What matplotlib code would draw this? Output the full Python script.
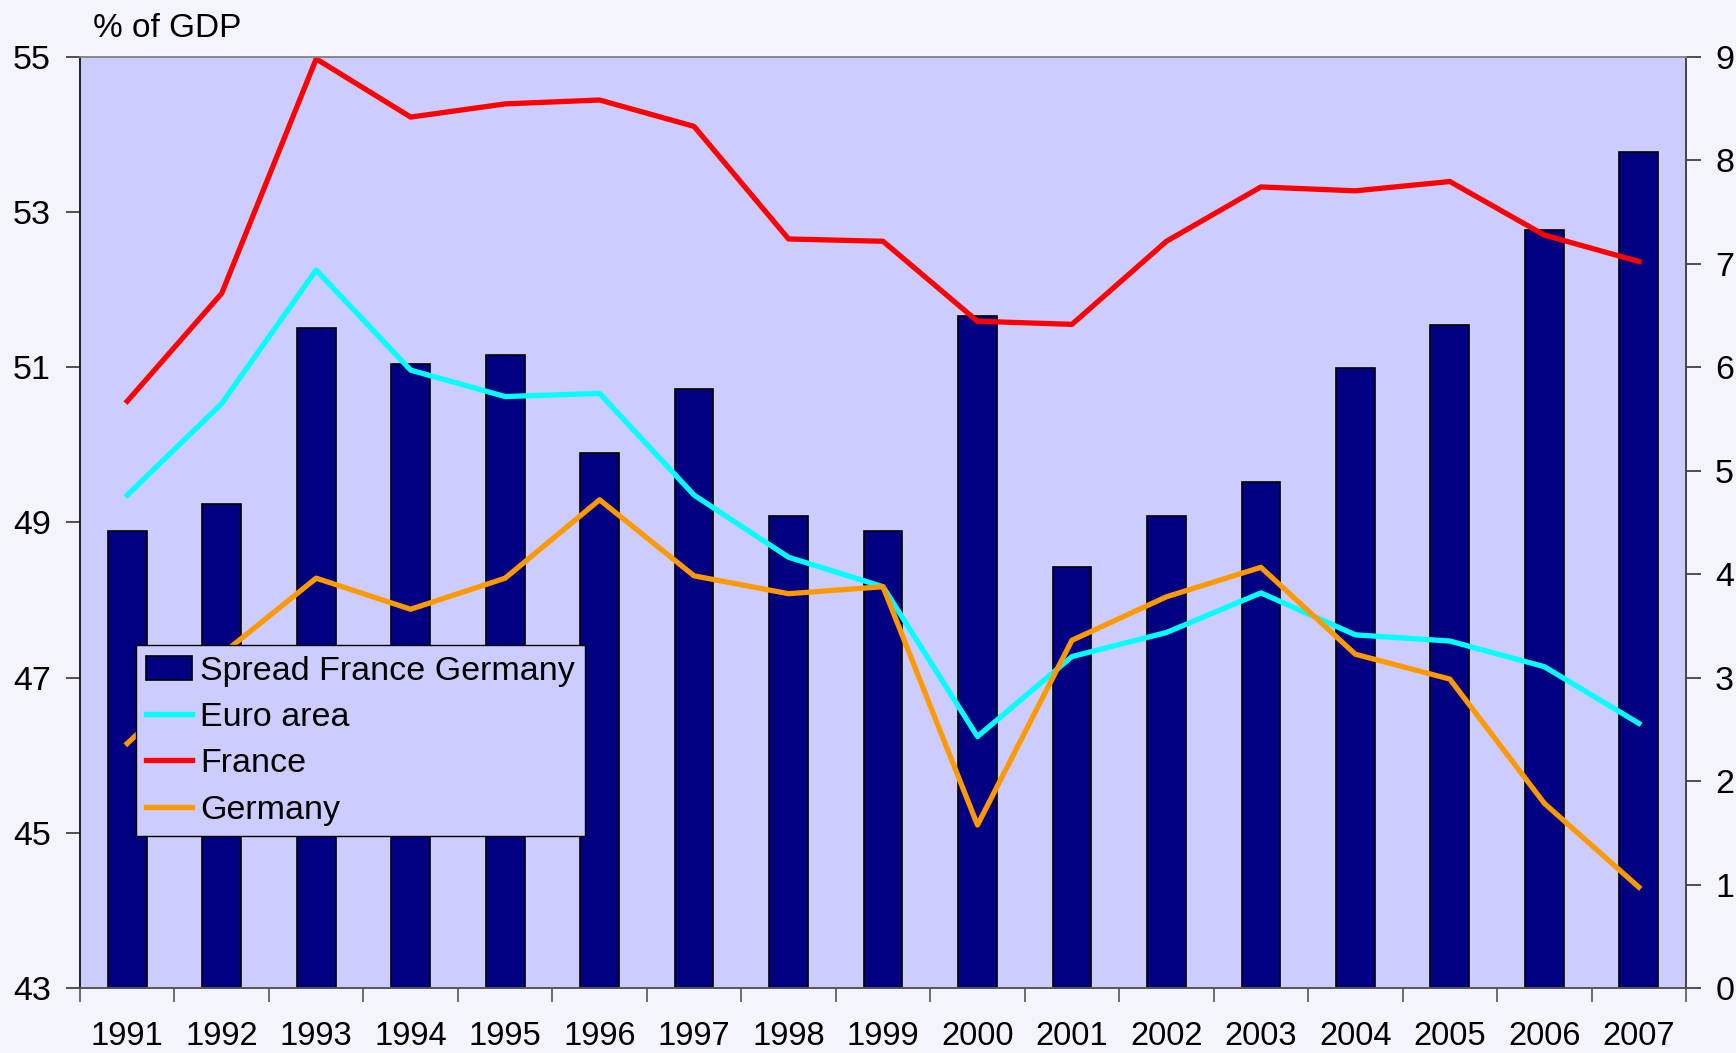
import matplotlib
matplotlib.use('Agg')
import matplotlib.pyplot as plt
import numpy as np

plt.rcParams['font.family'] = ['Liberation Sans', 'DejaVu Sans']

years = [str(y) for y in range(1991, 2008)]
spread = [4.42, 4.68, 6.38, 6.03, 6.12, 5.17, 5.79, 4.56, 4.42, 6.49,
          4.07, 4.56, 4.89, 5.99, 6.41, 7.32, 8.08]
euro_area = [49.35, 50.53, 52.25, 50.96, 50.62, 50.66, 49.35, 48.55, 48.17, 46.24,
             47.27, 47.58, 48.09, 47.55, 47.47, 47.14, 46.41]
france = [50.56, 51.95, 54.97, 54.22, 54.39, 54.44, 54.10, 52.65, 52.62, 51.59,
          51.55, 52.62, 53.32, 53.27, 53.39, 52.70, 52.36]
germany = [46.15, 47.30, 48.28, 47.88, 48.28, 49.29, 48.31, 48.08, 48.17, 45.10,
           47.48, 48.04, 48.42, 47.30, 46.98, 45.38, 44.30]

FIG_BG = '#F4F4FC'
AX_BG = '#CCCCFF'
NAVY = '#000080'

fig = plt.figure(figsize=(17.36, 10.53), dpi=100, facecolor=FIG_BG)
ax = fig.add_axes([0.0461, 0.0617, 0.9251, 0.8846])
ax2 = ax.twinx()

# bars behind, lines in front
ax2.set_zorder(1)
ax.set_zorder(2)
ax.patch.set_visible(False)
ax2.patch.set_visible(True)
ax2.patch.set_facecolor(AX_BG)

x = np.arange(len(years))
bars = ax2.bar(x, spread, width=0.41, color=NAVY, edgecolor='black', linewidth=1.2,
               label='Spread France Germany')
l1, = ax.plot(x, euro_area, color='#00FFFF', linewidth=3.8, label='Euro area')
l2, = ax.plot(x, france, color='#FF0000', linewidth=3.8, label='France')
l3, = ax.plot(x, germany, color='#FF9900', linewidth=3.8, label='Germany')

ax.set_xlim(-0.5, len(years) - 0.5)
ax.set_ylim(43, 55)
ax.set_yticks(np.arange(43, 56, 2))
ax2.set_ylim(0, 9)
ax2.set_yticks(np.arange(0, 10, 1))

# x ticks between categories, labels at centers
ax.set_xticks(np.arange(-0.5, len(years), 1))
ax.set_xticklabels([])
ax.set_xticks(x, minor=True)
ax.set_xticklabels(years, minor=True)
ax.tick_params(axis='x', which='major', length=10, width=1.2, color='#555555', direction='out')
ax.tick_params(axis='x', which='minor', length=0, pad=24, labelsize=23.5)
ax.tick_params(axis='y', length=10, width=1.2, color='#333333', pad=11, labelsize=24.5)
ax2.tick_params(axis='y', length=11, width=1.2, color='#333333', pad=10, labelsize=24.5)

for a in (ax, ax2):
    a.spines['top'].set_color('#888888')
    a.spines['left'].set_color('#222222')
    a.spines['right'].set_color('#444444')
    a.spines['bottom'].set_color('#555555')
    for s in a.spines.values():
        s.set_linewidth(1.2)

fig.text(93 / 1736, 1 - 37 / 1053, '% of GDP', fontsize=24, va='baseline', ha='left')

leg = ax.legend([bars, l1, l2, l3],
                ['Spread France Germany', 'Euro area', 'France', 'Germany'],
                loc='lower left', bbox_to_anchor=(0.0347, 0.1635), borderaxespad=0,
                fontsize=24.5, fancybox=False, framealpha=1, facecolor=AX_BG,
                edgecolor='black', handlelength=1.35, handletextpad=0.25,
                labelspacing=0.45, borderpad=0.3)
leg.get_frame().set_linewidth(1.0)

plt.savefig('out.png', dpi=100, facecolor=FIG_BG)
plt.close()
